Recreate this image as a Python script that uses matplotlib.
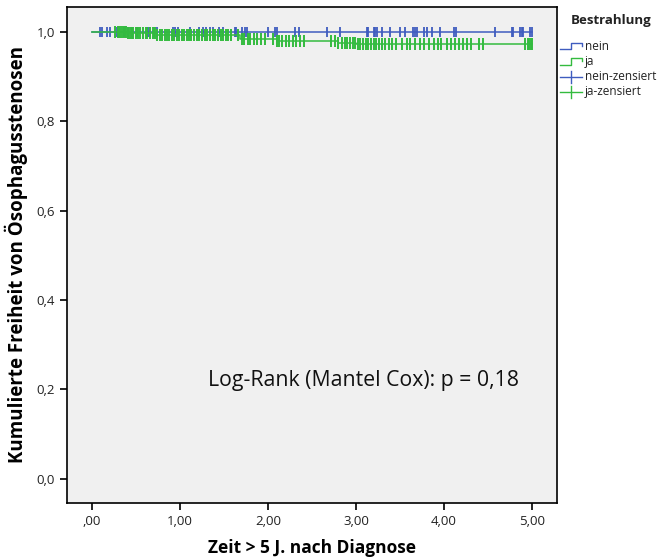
import numpy as np
import matplotlib
matplotlib.use('Agg')
import matplotlib.pyplot as plt
from matplotlib.lines import Line2D

# Kaplan-Meier steps
nein_times = [0.0, 5.0]
nein_surv = [1.0, 1.0]
ja_times = [0.0, 0.40, 0.74, 1.68, 2.10, 2.80, 3.00, 5.0]
ja_surv = [1.0, 0.997, 0.994, 0.985, 0.979, 0.976, 0.973, 0.973]

# censored observations
nein_cens = [0.09, 0.11, 0.17, 0.20, 0.28, 0.31, 0.36, 0.41, 0.45, 0.51, 0.62, 0.64,
             0.66, 0.70, 0.74, 0.92, 0.94, 0.98, 1.11, 1.21, 1.26, 1.30, 1.34, 1.38,
             1.44, 1.49, 1.63, 1.64, 1.70, 1.74, 1.76, 2.00, 2.08, 2.10, 2.31, 2.35,
             2.67, 2.82, 3.12, 3.14, 3.20, 3.22, 3.24, 3.29, 3.39, 3.50, 3.56, 3.65,
             3.67, 3.69, 3.77, 3.81, 3.86, 3.95, 4.11, 4.13, 4.58, 4.77, 4.78, 4.86,
             4.88, 4.90, 4.98, 5.00]
ja_cens = [0.26, 0.29, 0.31, 0.33, 0.35, 0.37, 0.39, 0.41, 0.43, 0.45, 0.47, 0.50,
           0.52, 0.55, 0.58, 0.61, 0.63, 0.66, 0.69, 0.71, 0.74, 0.77, 0.80, 0.83,
           0.85, 0.88, 0.91, 0.93, 0.96, 0.99, 1.02, 1.05, 1.08, 1.10, 1.13, 1.16,
           1.19, 1.22, 1.25, 1.28, 1.31, 1.34, 1.37, 1.40, 1.43, 1.46, 1.49, 1.52,
           1.55, 1.58, 1.66, 1.70, 1.73, 1.77, 1.80, 1.84, 1.88, 1.92, 1.96, 2.06,
           2.10, 2.13, 2.16, 2.20, 2.24, 2.28, 2.32, 2.36, 2.41, 2.72, 2.76, 2.80,
           2.84, 2.87, 2.90, 2.93, 2.96, 2.99, 3.02, 3.05, 3.08, 3.11, 3.14, 3.17,
           3.20, 3.23, 3.26, 3.29, 3.33, 3.37, 3.41, 3.45, 3.52, 3.58, 3.61, 3.67,
           3.73, 3.77, 3.83, 3.88, 3.93, 3.97, 4.03, 4.08, 4.12, 4.17, 4.22, 4.26,
           4.31, 4.40, 4.44, 4.92, 4.95, 4.97, 4.99, 5.00]

xticks = [0, 1, 2, 3, 4, 5]
xticklabels = [',00', '1,00', '2,00', '3,00', '4,00', '5,00']
yticks = [0.0, 0.2, 0.4, 0.6, 0.8, 1.0]
yticklabels = ['0,0', '0,2', '0,4', '0,6', '0,8', '1,0']

blue = '#3f5cbf'
green = '#33bb3f'

plt.rcParams['font.family'] = ['Open Sans', 'DejaVu Sans']

fig = plt.figure(figsize=(6.71, 5.57), dpi=100)
ax = fig.add_axes([0.0999, 0.097, 0.7303, 0.8904])
ax.set_facecolor('#f0f0f0')


def step_level(times, surv, t):
    i = np.searchsorted(times, t, side='right') - 1
    return np.array(surv)[np.clip(i, 0, len(surv) - 1)]


ax.step(nein_times, nein_surv, where='post', color=blue, lw=1.1, zorder=3)
ax.plot(nein_cens, step_level(nein_times, nein_surv, nein_cens), ls='none',
        marker='|', ms=7, mew=1.3, color=blue, zorder=3)
ax.step(ja_times, ja_surv, where='post', color=green, lw=1.1, zorder=4)
ax.plot(ja_cens, step_level(ja_times, ja_surv, ja_cens), ls='none',
        marker='|', ms=8, mew=1.4, color=green, zorder=4)

ax.set_xlim(-0.284, 5.284)
ax.set_ylim(-0.054, 1.056)
ax.set_xticks(xticks)
ax.set_xticklabels(xticklabels)
ax.set_yticks(yticks)
ax.set_yticklabels(yticklabels)
ax.tick_params(direction='out', length=5, width=1.2, labelsize=9.5,
               labelcolor='#222222')
for s in ax.spines.values():
    s.set_linewidth(1.2)

ax.set_xlabel('Zeit > 5 J. nach Diagnose', fontsize=12.5, fontweight='bold',
              labelpad=8)
ax.set_ylabel('Kumulierte Freiheit von Ösophagusstenosen', fontsize=13.5,
              fontweight='bold', labelpad=6)

ax.text(3.09, 0.219, 'Log-Rank (Mantel Cox): p = 0,18', fontsize=15.3,
        ha='center', va='center', color='#111111')

# legend outside the axes
fig.text(0.850, 0.963, 'Bestrahlung', fontsize=9.5, fontweight='bold',
         ha='left', va='center', color='#222222')
rows = [('nein', blue, 'step'), ('ja', green, 'step'),
        ('nein-zensiert', blue, 'cens'), ('ja-zensiert', green, 'cens')]
x0, x1, xm = 560 / 671, 582 / 671, 571 / 671
for k, (lab, col, kind) in enumerate(rows):
    yc = 1 - (46 + k * 15.3) / 557
    if kind == 'step':
        d = 3.5 / 557
        fig.add_artist(Line2D([x0, xm, xm, x1, x1], [yc - d, yc - d, yc + d, yc + d, yc],
                              color=col, lw=1.0))
    else:
        d = 6 / 557
        fig.add_artist(Line2D([x0, x1], [yc, yc], color=col, lw=1.0))
        fig.add_artist(Line2D([xm, xm], [yc - d, yc + d], color=col, lw=1.0))
    fig.text(585 / 671, yc, lab, fontsize=8.5, ha='left', va='center',
             color='#222222')

fig.savefig('out.png', dpi=100)
